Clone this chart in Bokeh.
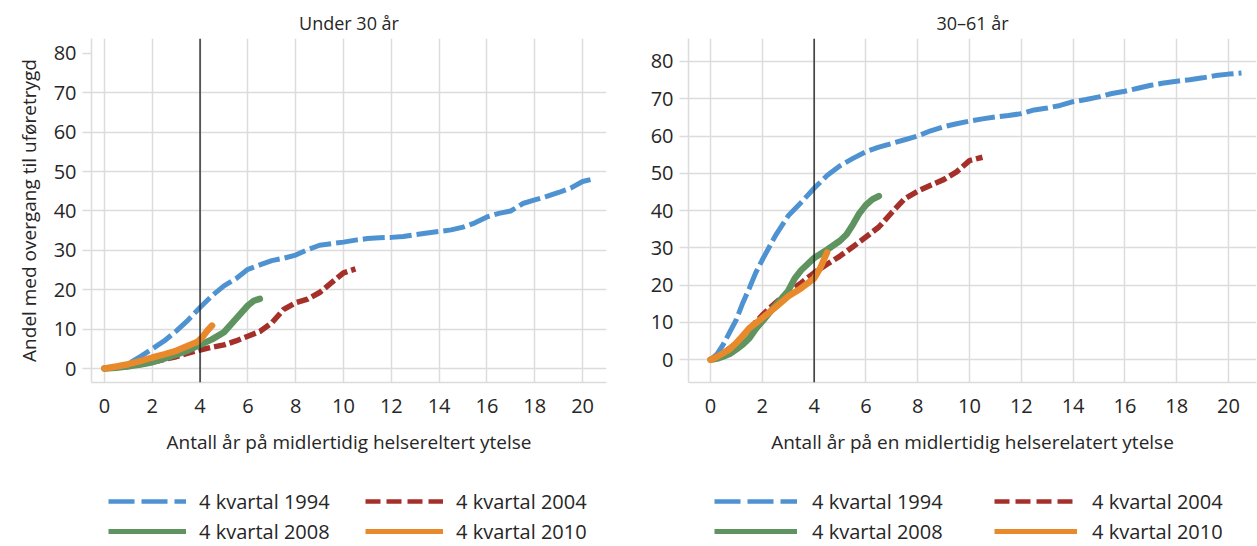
from bokeh.plotting import figure
from bokeh.layouts import row, column
from bokeh.models import Span, FixedTicker, Legend, LegendItem, Range1d
from bokeh.embed import file_html
from bokeh.resources import INLINE

FONT = "Open Sans"
TEXT = "#262626"
GRID = "#dcdcdc"

# ---------------- data ----------------
x_ticks = [0, 2, 4, 6, 8, 10, 12, 14, 16, 18, 20]
y_ticks = [0, 10, 20, 30, 40, 50, 60, 70, 80]

series_labels = ["4 kvartal 1994", "4 kvartal 2004", "4 kvartal 2008", "4 kvartal 2010"]
series_colors = ["#4E92D2", "#A5302A", "#5F9460", "#E8892B"]

# Under 30 år
u30_x_1994 = [0, 0.5, 1.0, 1.5, 2.0, 2.5, 3.0, 3.5, 4.0, 4.5, 5.0, 5.5, 6.0, 6.5, 7.0, 7.5, 8.0, 8.5, 9.0, 9.5,
              10.0, 10.5, 11.0, 11.5, 12.0, 12.5, 13.0, 13.5, 14.0, 14.5, 15.0, 15.5, 16.0, 16.5, 17.0, 17.5,
              18.0, 18.5, 19.0, 19.5, 20.0, 20.5]
u30_y_1994 = [0, 0.4, 1.2, 3.0, 5.0, 7.0, 9.5, 12.3, 15.5, 18.5, 21.0, 22.8, 25.2, 26.3, 27.4, 28.0, 28.8, 30.2, 31.3, 31.7,
              32.1, 32.6, 33.0, 33.2, 33.3, 33.5, 34.0, 34.4, 34.8, 35.2, 35.9, 37.0, 38.5, 39.4, 40.0, 41.9,
              42.8, 43.7, 44.7, 45.8, 47.5, 48.2]
u30_x_2004 = [0, 0.5, 1.0, 1.5, 2.0, 2.5, 3.0, 3.5, 4.0, 4.5, 5.0, 5.5, 6.0, 6.5, 7.0, 7.5, 8.0, 8.5, 9.0, 9.5, 10.0, 10.5]
u30_y_2004 = [0, 0.2, 0.5, 1.0, 1.6, 2.3, 3.0, 3.9, 4.7, 5.4, 6.0, 7.0, 8.2, 9.4, 11.6, 15.0, 16.7, 17.6, 19.3, 21.8, 24.3, 25.3]
u30_x_2008 = [0, 0.5, 1.0, 1.5, 2.0, 2.5, 3.0, 3.5, 4.0, 4.5, 5.0, 5.5, 6.0, 6.25, 6.5]
u30_y_2008 = [0, 0.2, 0.6, 1.0, 1.6, 2.5, 3.5, 4.6, 6.0, 7.4, 9.2, 12.6, 16.0, 17.2, 17.7]
u30_x_2010 = [0, 0.5, 1.0, 1.5, 2.0, 2.5, 3.0, 3.5, 3.9, 4.1, 4.3, 4.5]
u30_y_2010 = [0, 0.5, 1.1, 1.9, 2.8, 3.6, 4.5, 5.8, 6.8, 8.0, 9.6, 10.9]

# 30–61 år
o30_x_1994 = [0, 0.25, 0.5, 0.75, 1.0, 1.25, 1.5, 1.75, 2.0, 2.5, 3.0, 3.5, 4.0, 4.5, 5.0, 5.5, 6.0, 6.5, 7.0, 7.5,
              8.0, 8.5, 9.0, 9.5, 10.0, 10.5, 11.0, 11.5, 12.0, 12.5, 13.0, 13.5, 14.0, 14.5, 15.0, 15.5, 16.0,
              16.5, 17.0, 17.5, 18.0, 18.5, 19.0, 19.5, 20.0, 20.5]
o30_y_1994 = [0, 1.5, 4.2, 7.5, 10.8, 15.3, 19.2, 23.4, 26.8, 33.2, 38.6, 42.2, 46.0, 49.4, 52.0, 54.0, 55.8, 57.0, 58.0, 59.0,
              60.0, 61.4, 62.5, 63.3, 64.0, 64.6, 65.1, 65.5, 66.0, 67.0, 67.5, 68.2, 69.2, 69.8, 70.5, 71.4, 72.0,
              72.8, 73.6, 74.2, 74.7, 75.1, 75.6, 76.2, 76.6, 76.9]
o30_x_2004 = [0, 0.5, 1.0, 1.5, 2.0, 2.5, 3.0, 3.5, 4.0, 4.5, 5.0, 5.5, 6.0, 6.5, 7.0, 7.5, 8.0, 8.5, 9.0, 9.5, 10.0, 10.5]
o30_y_2004 = [0, 1.8, 4.5, 8.2, 12.0, 15.2, 18.2, 20.6, 23.3, 25.6, 27.8, 30.3, 32.9, 35.6, 39.5, 43.2, 45.2, 46.8, 48.3, 50.4, 53.4, 54.3]
o30_x_2008 = [0, 0.25, 0.5, 0.75, 1.0, 1.25, 1.5, 1.75, 2.0, 2.5, 3.0, 3.25, 3.5, 4.0, 4.5, 5.0, 5.25, 5.5, 5.75, 6.0, 6.25, 6.5]
o30_y_2008 = [0, 0.3, 0.9, 1.6, 2.8, 4.1, 5.8, 8.3, 10.3, 14.5, 18.5, 21.8, 24.0, 27.3, 29.5, 31.9, 33.6, 36.3, 39.3, 41.5, 43.0, 43.9]
o30_x_2010 = [0, 0.25, 0.5, 0.75, 1.0, 1.25, 1.5, 1.75, 2.0, 2.5, 3.0, 3.5, 4.0, 4.25, 4.5]
o30_y_2010 = [0, 0.8, 1.8, 2.9, 4.5, 6.5, 8.5, 9.8, 11.2, 14.0, 17.0, 19.2, 21.8, 24.8, 28.8]

styles = [
    dict(line_width=5, line_dash="22 5", line_cap="butt"),
    dict(line_width=5.5, line_dash="12 4", line_cap="butt"),
    dict(line_width=6.5, line_dash="solid", line_cap="round"),
    dict(line_width=6.5, line_dash="solid", line_cap="round"),
]
legend_styles = [
    dict(line_width=4.5, line_dash="26 7", line_cap="butt"),
    dict(line_width=4.5, line_dash="15 6", line_cap="butt"),
    dict(line_width=5, line_dash="solid", line_cap="butt"),
    dict(line_width=5, line_dash="solid", line_cap="butt"),
]

MAIN_H = 478
LEG_H = 546 - MAIN_H


def make_panel(title, width, mbl, mbr, xr, yr, series, xlabel, ylabel, ygrid_ticks):
    p = figure(width=width, height=MAIN_H, x_range=Range1d(*xr), y_range=Range1d(*yr),
               output_backend="svg", toolbar_location=None,
               min_border_left=mbl, min_border_right=mbr, min_border_top=38,
               min_border_bottom=MAIN_H - 382)
    p.title.text = title
    p.title.align = "center"
    p.title.text_font = FONT
    p.title.text_font_size = "18px"
    p.title.text_font_style = "normal"
    p.title.text_color = TEXT
    p.title.standoff = 8
    p.outline_line_color = None
    p.background_fill_color = "white"
    p.border_fill_color = "white"

    p.xaxis.ticker = FixedTicker(ticks=x_ticks)
    p.yaxis.ticker = FixedTicker(ticks=y_ticks)
    p.xgrid.ticker = FixedTicker(ticks=x_ticks)
    p.ygrid.ticker = FixedTicker(ticks=ygrid_ticks)
    for g in (p.xgrid, p.ygrid):
        g.grid_line_color = GRID
        g.grid_line_width = 1.5

    for ax in (p.xaxis, p.yaxis):
        ax.axis_line_color = GRID
        ax.axis_line_width = 1.5
        ax.minor_tick_line_color = None
        ax.major_label_text_font = FONT
        ax.major_label_text_font_size = "20px"
        ax.major_label_text_color = TEXT
        ax.axis_label_text_font = FONT
        ax.axis_label_text_font_size = "19px"
        ax.axis_label_text_font_style = "normal"
        ax.axis_label_text_color = TEXT
    p.xaxis.major_tick_out = 0
    p.xaxis.major_tick_in = 0
    p.xaxis.major_label_standoff = 16
    p.xaxis.axis_label = xlabel
    p.xaxis.axis_label_standoff = 13
    p.yaxis.major_tick_out = 9
    p.yaxis.major_tick_in = 0
    p.yaxis.major_tick_line_color = GRID
    p.yaxis.major_tick_line_width = 1.5
    p.yaxis.major_label_standoff = 6
    if ylabel:
        p.yaxis.axis_label = ylabel
        p.yaxis.axis_label_standoff = 9

    for (xs, ys), col, st in zip(series, series_colors, styles):
        p.line(xs, ys, line_color=col, line_join="round", **st)

    p.add_layout(Span(location=4, dimension="height", line_color="#1a1a1a", line_width=1.3))
    return p


def make_legend_fig(width, leg_x, label_w, glyph_w, standoff):
    f = figure(width=width, height=LEG_H, x_range=Range1d(0, 1), y_range=Range1d(0, 1),
               output_backend="svg", toolbar_location=None,
               x_axis_location=None, y_axis_location=None,
               min_border_left=0, min_border_right=0, min_border_top=0, min_border_bottom=0)
    f.grid.visible = False
    f.outline_line_color = None
    f.background_fill_color = "white"
    f.border_fill_color = "white"
    rs = []
    for col, st in zip(series_colors, legend_styles):
        # legend-key renderer only: a single off-range point, nothing drawn in the frame
        rs.append(f.line(x=[-5.0], y=[-5.0], line_color=col, **st))
    items = [LegendItem(label=lab, renderers=[r]) for lab, r in zip(series_labels, rs)]
    leg = Legend(items=items, location=(leg_x, 1), orientation="horizontal", ncols=2,
                 glyph_width=glyph_w, glyph_height=28, label_height=28, label_width=label_w,
                 label_standoff=standoff, spacing=2, padding=0, margin=0,
                 border_line_color=None, background_fill_alpha=0,
                 label_text_font=FONT, label_text_font_size="20px", label_text_color=TEXT)
    f.add_layout(leg)
    return f


p1 = make_panel("Under 30 år", 630, 91, 24, (-0.54, 21.0), (-3.55, 83.8),
                [(u30_x_1994, u30_y_1994), (u30_x_2004, u30_y_2004), (u30_x_2008, u30_y_2008), (u30_x_2010, u30_y_2010)],
                "Antall år på midlertidig helsereltert ytelse", "Andel med overgang til uføretrygd",
                [0, 10, 20, 30, 40, 50, 60, 70])
p2 = make_panel("30–61 år", 627, 58, 1, (-0.85, 21.08), (-6.1, 86.15),
                [(o30_x_1994, o30_y_1994), (o30_x_2004, o30_y_2004), (o30_x_2008, o30_y_2008), (o30_x_2010, o30_y_2010)],
                "Antall år på en midlertidig helserelatert ytelse", None,
                y_ticks)
l1 = make_legend_fig(630, 108, 164, 78, 13)
l2 = make_legend_fig(627, 84, 180, 83, 15)

layout = column(row(p1, p2), row(l1, l2))
open("out.html", "w").write(file_html(layout, INLINE))
